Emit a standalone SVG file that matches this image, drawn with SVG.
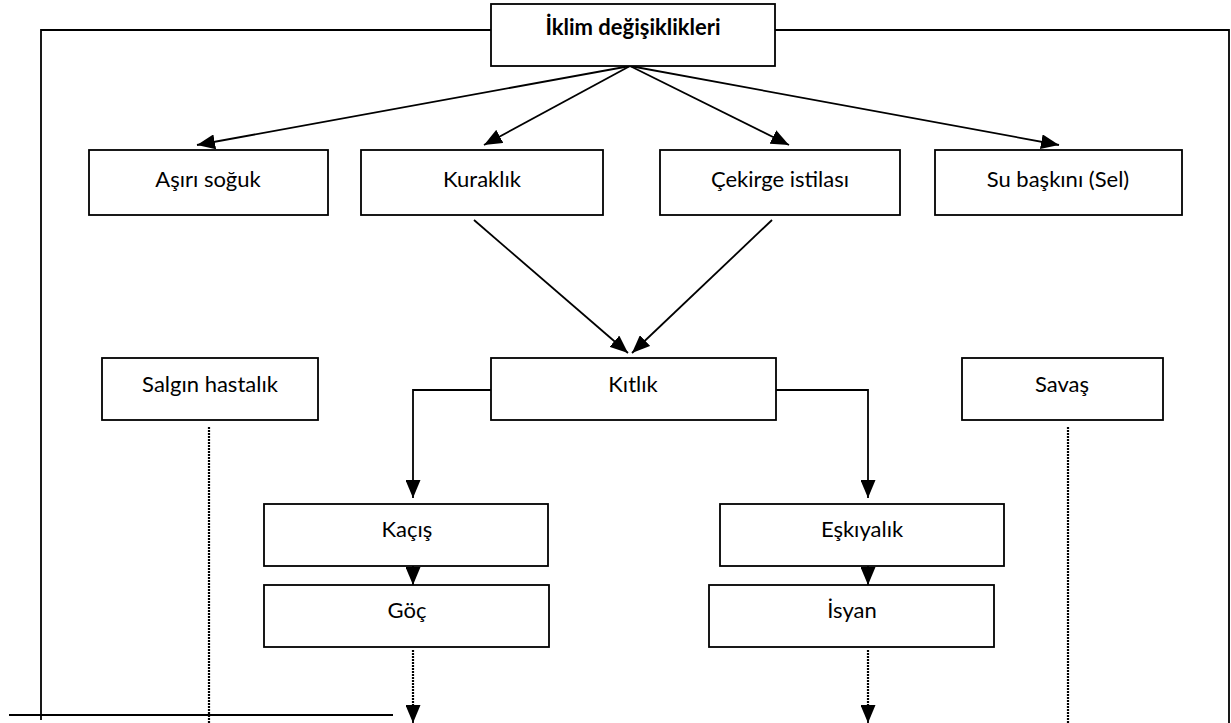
<svg xmlns="http://www.w3.org/2000/svg" width="1231" height="723" viewBox="0 0 1231 723">
<style>
.box{fill:#fff;stroke:#000;stroke-width:1.8}
.t{font-family:Lato,"Liberation Sans",sans-serif;font-size:22px;fill:#000;text-anchor:middle}
.b{font-weight:bold}
.ln{fill:none;stroke:#000;stroke-width:1.8}
.dot{fill:none;stroke:#000;stroke-width:2.2;stroke-dasharray:2 1}
</style>
<defs>
<marker id="ah" markerUnits="userSpaceOnUse" markerWidth="19" markerHeight="15" refX="18" refY="7.5" orient="auto">
<path d="M0,0 L18,7.5 L0,15 z" fill="#000"/>
</marker>
</defs>
<g id="connectors">
<path class="ln" d="M41,720 V30 H491 M775,30 H1229 V723"/>
<path class="ln" d="M9,715 H393"/>
<path class="ln" d="M630,66 L197,145" marker-end="url(#ah)"/>
<path class="ln" d="M630,66 L484,145" marker-end="url(#ah)"/>
<path class="ln" d="M630,66 L789,145" marker-end="url(#ah)"/>
<path class="ln" d="M630,66 L1059,145" marker-end="url(#ah)"/>
<path class="ln" d="M474,220 L628,353" marker-end="url(#ah)"/>
<path class="ln" d="M772,220 L632,353" marker-end="url(#ah)"/>
<path class="ln" d="M491,390 H413 V498" marker-end="url(#ah)"/>
<path class="ln" d="M776,390 H868 V498" marker-end="url(#ah)"/>
<path class="ln" d="M413,566 V585" marker-end="url(#ah)"/>
<path class="ln" d="M868,566 V585" marker-end="url(#ah)"/>
<path class="dot" d="M413,650 V708"/>
<path class="ln" d="M413,704 V723" marker-end="url(#ah)"/>
<path class="dot" d="M868,650 V708"/>
<path class="ln" d="M868,704 V723" marker-end="url(#ah)"/>
<path class="dot" d="M209,427 V723"/>
<path class="dot" d="M1068,427 V723"/>
</g>
<g id="n-iklim"><rect class="box" x="491" y="4" width="284" height="62"/><text class="t b" x="633" y="35">İklim değişiklikleri</text></g>
<g id="n-asiri"><rect class="box" x="89" y="150" width="239" height="65"/><text class="t" x="208" y="187">Aşırı soğuk</text></g>
<g id="n-kuraklik"><rect class="box" x="361" y="150" width="242" height="65"/><text class="t" x="482" y="187">Kuraklık</text></g>
<g id="n-cekirge"><rect class="box" x="660" y="150" width="240" height="65"/><text class="t" x="780" y="187">Çekirge istilası</text></g>
<g id="n-su"><rect class="box" x="935" y="150" width="247" height="65"/><text class="t" x="1058" y="187">Su başkını (Sel)</text></g>
<g id="n-salgin"><rect class="box" x="102" y="358" width="216" height="62"/><text class="t" x="210" y="392">Salgın hastalık</text></g>
<g id="n-kitlik"><rect class="box" x="491" y="358" width="285" height="62"/><text class="t" x="633" y="392">Kıtlık</text></g>
<g id="n-savas"><rect class="box" x="962" y="358" width="201" height="62"/><text class="t" x="1062" y="392">Savaş</text></g>
<g id="n-kacis"><rect class="box" x="264" y="504" width="284" height="62"/><text class="t" x="407" y="537">Kaçış</text></g>
<g id="n-goc"><rect class="box" x="264" y="585" width="285" height="62"/><text class="t" x="407" y="618">Göç</text></g>
<g id="n-eskiyalik"><rect class="box" x="720" y="504" width="284" height="62"/><text class="t" x="862" y="537">Eşkıyalık</text></g>
<g id="n-isyan"><rect class="box" x="709" y="585" width="285" height="62"/><text class="t" x="852" y="618">İsyan</text></g>
</svg>
